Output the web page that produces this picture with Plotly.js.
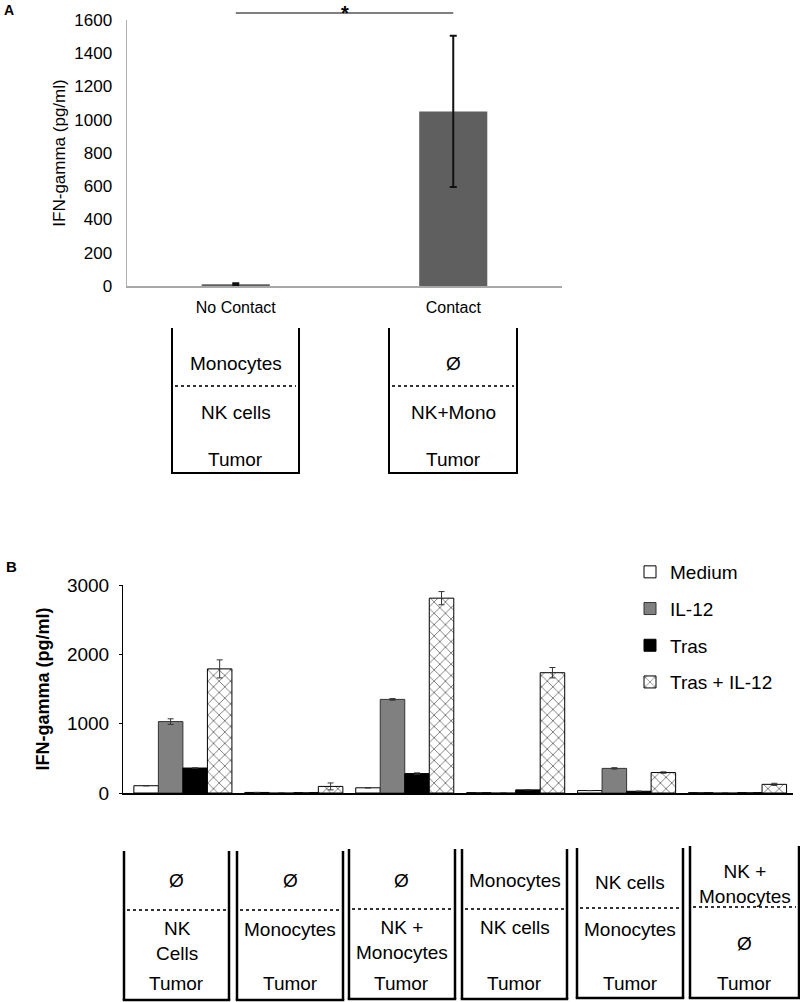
<!DOCTYPE html>
<html>
<head>
<meta charset="utf-8">
<script src="https://cdn.plot.ly/plotly-3.0.1.min.js"></script>
<style>html,body{margin:0;padding:0;background:#fff;}#chart{width:800px;height:1002px;}</style>
</head>
<body>
<div id="chart"></div>
<script>
// ---------- Panel A data ----------
const aCategories = ['No Contact', 'Contact'];
const aValues = [10, 1050];
const aErrors = [6, 455];
const aUpper = ['Monocytes', 'Ø'];
const aLower = ['NK cells', 'NK+Mono'];
const aBottom = ['Tumor', 'Tumor'];
const aTickVals = [0, 200, 400, 600, 800, 1000, 1200, 1400, 1600];
const aSigLabel = '*';

// ---------- Panel B data ----------
const bCategories = ['Ø / NK Cells', 'Ø / Monocytes', 'Ø / NK + Monocytes',
  'Monocytes / NK cells', 'NK cells / Monocytes', 'NK + Monocytes / Ø'];
const bSeriesNames = ['Medium', 'IL-12', 'Tras', 'Tras + IL-12'];
const bMedium = [105, 8, 75, 5, 35, 5];
const bIL12 = [1030, 0, 1350, 0, 355, 0];
const bTras = [360, 5, 280, 45, 25, 5];
const bTrasIL12 = [1790, 95, 2810, 1735, 295, 125];
const bMediumErr = [0, 0, 0, 0, 0, 0];
const bIL12Err = [40, 0, 12, 0, 10, 0];
const bTrasErr = [0, 0, 10, 0, 0, 0];
const bTrasIL12Err = [130, 50, 95, 75, 10, 15];
const bUpper = ['Ø', 'Ø', 'Ø', 'Monocytes', 'NK cells', 'NK +<br>Monocytes'];
const bLower = ['NK<br>Cells', 'Monocytes', 'NK +<br>Monocytes', 'NK cells', 'Monocytes', 'Ø'];
const bBottom = ['Tumor', 'Tumor', 'Tumor', 'Tumor', 'Tumor', 'Tumor'];
const bTickVals = [0, 1000, 2000, 3000];

// ---------- helpers ----------
const W = 800, H = 1002;
const px = x => x / W;
const py = y => 1 - y / H;
const FONT = 'Liberation Sans, Arial, Helvetica, sans-serif';

const traces = [];
traces.push({
  type: 'bar', x: aCategories, y: aValues, xaxis: 'x', yaxis: 'y',
  width: 0.313, offset: -0.1565,
  marker: {color: '#5f5f5f', line: {width: 0}},
  error_y: {type: 'data', array: aErrors, visible: true, color: '#111', thickness: 2, width: 3.5},
  showlegend: false, hoverinfo: 'skip'
});

const bSeries = [bMedium, bIL12, bTras, bTrasIL12];
const bErrs = [bMediumErr, bIL12Err, bTrasErr, bTrasIL12Err];
const bMarkers = [
  {color: '#ffffff', line: {color: '#000', width: 1}},
  {color: '#808080', line: {color: '#333', width: 1}},
  {color: '#000000', line: {color: '#000', width: 1}},
  {color: '#ffffff', line: {color: '#000', width: 1},
   pattern: {shape: 'x', fgcolor: '#000', bgcolor: '#ffffff', size: 8, solidity: 0.12}}
];
bSeries.forEach((vals, i) => {
  traces.push({
    type: 'bar', name: bSeriesNames[i], x: bCategories, y: vals, xaxis: 'x2', yaxis: 'y2',
    marker: bMarkers[i], legendgroup: 'g' + i,
    error_y: {type: 'data', array: bErrs[i], visible: true, color: '#333', thickness: 1, width: 3},
    hoverinfo: 'skip'
  });
});

const shapes = [];
const annotations = [];

// Panel A significance bar (between the two categories, above the plot)
shapes.push({type: 'line', xref: 'x', yref: 'paper', x0: 0, x1: 1, y0: py(13), y1: py(13),
  line: {color: '#555', width: 1.5}});
annotations.push({xref: 'x', yref: 'paper', x: 0.5, y: 1, text: '<b>' + aSigLabel + '</b>',
  showarrow: false, yanchor: 'top', font: {size: 20, color: '#000', family: FONT}});

// Panel letters
annotations.push({xref: 'paper', yref: 'paper', x: px(2), y: py(10), xanchor: 'left', yanchor: 'middle',
  text: '<b>A</b>', showarrow: false, font: {size: 14, family: FONT, color: '#000'}});
annotations.push({xref: 'paper', yref: 'paper', x: px(4), y: py(566), xanchor: 'left', yanchor: 'middle',
  text: '<b>B</b>', showarrow: false, font: {size: 15, family: FONT, color: '#000'}});

// Well diagram helper
function well(l, r, top, bot, dot, texts, ys, lw) {
  shapes.push({type: 'line', xref: 'paper', yref: 'paper', x0: px(l), x1: px(l), y0: py(top), y1: py(bot), line: {color: '#000', width: lw}});
  shapes.push({type: 'line', xref: 'paper', yref: 'paper', x0: px(r), x1: px(r), y0: py(top), y1: py(bot), line: {color: '#000', width: lw}});
  shapes.push({type: 'line', xref: 'paper', yref: 'paper', x0: px(l - lw / 2), x1: px(r + lw / 2), y0: py(bot), y1: py(bot), line: {color: '#000', width: lw}});
  shapes.push({type: 'line', xref: 'paper', yref: 'paper', x0: px(l + 3), x1: px(r - 3), y0: py(dot), y1: py(dot), line: {color: '#333', width: 2, dash: 'dot'}});
  const cx = (l + r) / 2;
  texts.forEach((t, k) => {
    annotations.push({xref: 'paper', yref: 'paper', x: px(cx), y: py(ys[k]), xanchor: 'center', yanchor: 'middle',
      text: t, showarrow: false, font: {size: 19, family: FONT, color: '#000'}});
  });
}

// Panel A wells
const aL = [172, 389], aR = [299, 517];
for (let i = 0; i < 2; i++) {
  well(aL[i], aR[i], 328, 473, 386, [aUpper[i], aLower[i], aBottom[i]], [363, 412, 459], 2);
}

// Panel B wells
const bL = [124, 237, 349, 462, 577, 690];
const bR = [229, 343, 455, 567, 683, 799];
const bTop = [851, 851, 849, 849, 848, 846];
const bBot = [1000, 1000, 999, 999, 998, 998];
const bDot = [910, 910, 909, 909, 908, 907];
const bUpY = [880, 880, 880, 880, 882, 884];
const bLowY = [941, 929, 940, 927, 929, 943];
for (let i = 0; i < 6; i++) {
  well(bL[i], bR[i], bTop[i], bBot[i], bDot[i], [bUpper[i], bLower[i], bBottom[i]], [bUpY[i], bLowY[i], 983], 2.5);
}

const layout = {
  width: W, height: H,
  margin: {l: 0, r: 0, t: 0, b: 0},
  paper_bgcolor: '#fff', plot_bgcolor: '#fff',
  font: {family: FONT, color: '#000'},
  barmode: 'group', bargap: 0.116, bargroupgap: 0,
  showlegend: true,
  legend: {x: px(630), y: py(553), xanchor: 'left', yanchor: 'top', bgcolor: 'rgba(0,0,0,0)',
    font: {size: 19, family: FONT, color: '#000'}, tracegroupgap: 9, traceorder: 'grouped'},
  xaxis: {domain: [px(127), px(562)], anchor: 'y', type: 'category', range: [-0.5, 1.5],
    showline: true, linecolor: '#a8a8a8', linewidth: 2, showgrid: false, zeroline: false,
    ticks: '', tickfont: {size: 16, color: '#000'}, ticklabelstandoff: 6, automargin: false},
  yaxis: {domain: [py(286), py(20)], anchor: 'x', range: [0, 1600], tickvals: aTickVals,
    showline: true, linecolor: '#b0b0b0', linewidth: 1.5, showgrid: false, zeroline: false, ticks: '',
    tickfont: {size: 17, color: '#000'}, ticklabelstandoff: 10, automargin: false,
    title: {text: 'IFN-gamma (pg/ml)', font: {size: 17, color: '#000'}, standoff: 4}},
  xaxis2: {domain: [px(123), px(793)], anchor: 'y2', type: 'category', range: [-0.54, 5.5],
    showline: true, linecolor: '#000', linewidth: 1.5, showgrid: false, zeroline: false,
    showticklabels: false, ticks: '', automargin: false},
  yaxis2: {domain: [py(793), py(585)], anchor: 'x2', range: [0, 3000], tickvals: bTickVals,
    showline: true, linecolor: '#000', linewidth: 1, showgrid: false, zeroline: false,
    ticks: 'outside', ticklen: 3, tickcolor: '#000', tickfont: {size: 19, color: '#000'},
    ticklabelstandoff: 6, automargin: false,
    title: {text: 'IFN-gamma (pg/ml)', font: {size: 18, color: '#000', weight: 'bold'}, standoff: 12}},
  shapes: shapes,
  annotations: annotations
};

Plotly.newPlot('chart', traces, layout, {staticPlot: true, displayModeBar: false});
</script>
</body>
</html>
